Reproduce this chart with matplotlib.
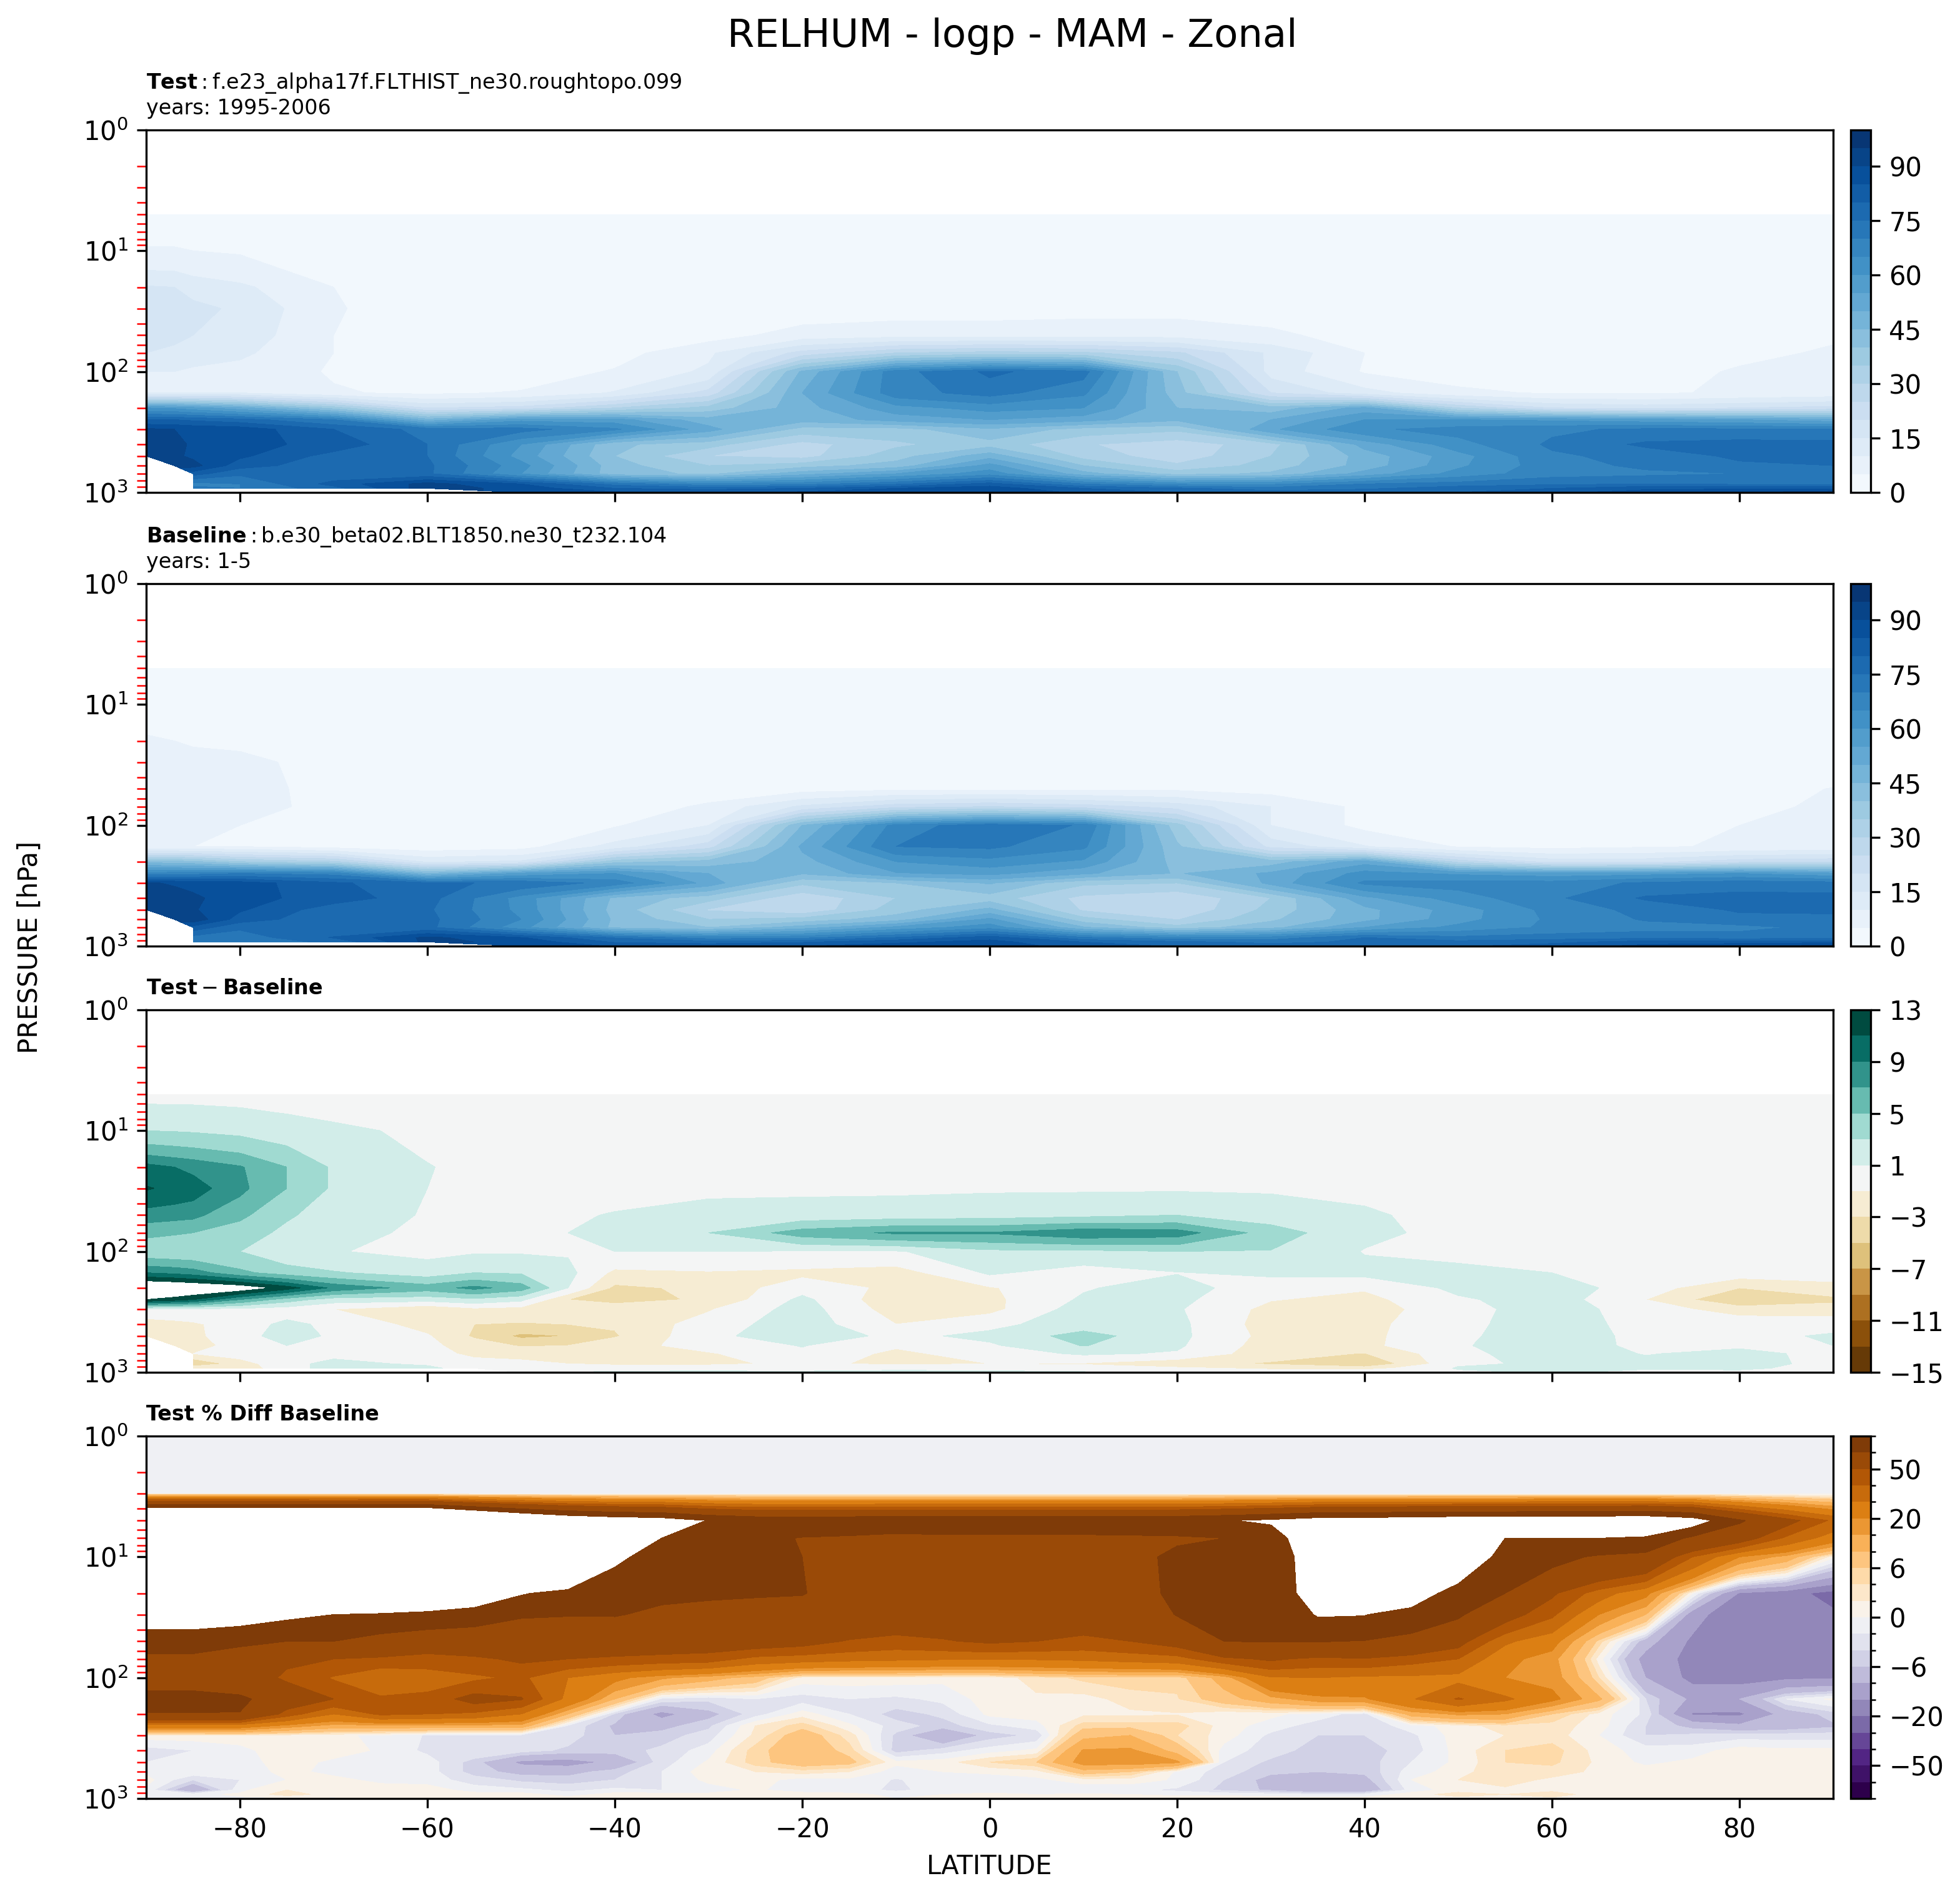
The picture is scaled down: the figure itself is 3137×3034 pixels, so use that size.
import numpy as np
import matplotlib
matplotlib.use("Agg")
import matplotlib.pyplot as plt
from matplotlib.colors import BoundaryNorm, TwoSlopeNorm
from matplotlib.ticker import LogLocator, NullFormatter

nan = np.nan

lat = [-90, -87, -85, -80, -70, -60, -50, -40, -30, -20, -10, 0, 10, 20, 30, 40, 50, 60, 70, 80, 90]
lat_diff = [-90, -87, -85, -80, -75, -70, -60, -55, -50, -45, -40, -30, -20, -10, 0, 10, 20, 30, 40, 50, 60, 70, 80, 90]
lat_pct = list(range(-90, 95, 5))
lev = [5, 7, 10, 20, 30, 50, 70, 100, 150, 200, 250, 300, 400, 500, 600, 700, 850, 925, 1000]
lev_pct = [1, 2, 3] + lev

# RELHUM, test case (rows follow lev)
test_vals = [
    [2.5, 2.5, 2.5, 2, 2, 2, 2, 2, 2, 2, 2, 2, 2, 2, 2, 2, 2, 2, 2, 2, 2],
    [3.5, 3.5, 3.5, 3, 2, 2, 2, 2, 2, 2, 2, 2, 2, 2, 2, 2, 2, 2, 2, 2, 2],
    [5.5, 5.5, 5, 4.5, 3, 2, 2, 2, 2, 2, 2, 2, 2, 2, 2, 2, 2, 2, 2, 2, 2],
    [15.5, 15, 13, 11, 5, 2, 2, 2, 2, 2, 2, 2.5, 2.5, 2.5, 2.5, 2, 2, 2, 2, 2, 2.5],
    [20, 18, 16.5, 14, 5.5, 2, 2, 2, 2, 2.5, 3, 3, 3.5, 3.5, 3, 2.5, 2, 2, 2, 2.5, 3],
    [16, 16, 15, 13, 5, 2, 2, 2, 3, 7, 8, 8, 8, 8, 6, 3, 2, 2, 2, 3, 4.5],
    [15, 14, 12.5, 11, 5, 2, 2, 3, 9, 22, 30, 32, 31, 26, 14, 5, 2, 2, 2.5, 4, 5.5],
    [10, 10, 9, 8, 4.5, 2, 2, 5.5, 11, 46, 68, 76, 72, 40, 13, 4.5, 3, 2.5, 3, 5.5, 8],
    [10, 10, 10, 10, 5.5, 4, 5.5, 10.5, 22, 50, 68, 72, 66, 42, 20, 12, 6, 4.5, 4.5, 5.5, 6.5],
    [60, 59, 57, 52, 38, 20, 22, 30, 37, 48, 58, 62, 60, 45, 42, 52, 30, 20, 18, 20, 22],
    [80, 80, 79, 77, 70, 47, 58, 57, 47, 47, 52, 55, 52, 46, 50, 60, 60, 59, 57, 55, 52],
    [91, 90, 89, 88, 80, 73, 72, 66, 52, 38, 38, 44, 38, 36, 54, 64, 67, 69, 71, 71, 70],
    [91, 91, 89.5, 87, 83, 75, 60, 41, 37, 28, 34, 38, 30.5, 27, 33, 52, 63, 71, 76, 77, 77],
    [91, 91, 89, 86, 78, 75, 58, 40, 30, 28, 38, 48, 33, 27, 35, 47, 58, 69, 72, 76, 77],
    [nan, 93, 92, 82, 77, 76, 62, 42, 35, 38, 42, 57, 40, 31, 37, 47, 59, 68, 71, 74, 75],
    [nan, nan, 82, 76, 76, 76, 60, 42, 39, 48, 55, 63, 47, 38, 41, 52, 62, 68, 69, 70, 72],
    [nan, nan, 68, 70, 82, 92, 85, 73, 66, 68, 74, 82, 70, 64, 64, 70, 72, 74, 75, 74, 74],
    [nan, nan, 72, 70, 78, 93, 88, 80, 78, 80, 85, 88, 80, 76, 72, 74, 78, 80, 84, 84, 84],
    [nan, nan, nan, nan, nan, nan, 88, 86, 85, 86, 89, 89, 84, 80, 78, 79, 80, 84, 87, 90, 93],
]

# RELHUM, baseline case
base_vals = [
    [2, 2, 2, 2, 2, 2, 2, 2, 2, 2, 2, 2, 2, 2, 2, 2, 2, 2, 2, 2, 2],
    [2, 2, 2, 2, 2, 2, 2, 2, 2, 2, 2, 2, 2, 2, 2, 2, 2, 2, 2, 2, 2],
    [2.5, 2.5, 2.5, 2, 2, 2, 2, 2, 2, 2, 2, 2, 2, 2, 2, 2, 2, 2, 2, 2, 2],
    [5.7, 5, 4.5, 3.8, 2.3, 2, 2, 2, 2, 2, 2, 2, 2, 2, 2, 2, 2, 2, 2, 2, 2],
    [8.8, 7.5, 6.5, 6.5, 2.8, 2, 2, 2, 2, 2, 2, 2, 2, 2, 2, 2, 2, 2, 2, 2, 2.5],
    [8, 8, 7.5, 7.5, 2.7, 2, 2, 2, 2, 3, 4, 4, 4, 4, 3, 2, 2, 2, 2, 3, 5.2],
    [9.5, 8.5, 7.5, 7.2, 3.2, 1.5, 1.5, 1.5, 6, 16, 23, 25, 22.5, 18, 10, 3.6, 1.5, 1.5, 2, 3.5, 6],
    [6.5, 6, 5.8, 5, 3.4, 1.5, 1.2, 4.5, 10, 45, 67, 73.5, 69.5, 37, 10, 3.6, 2.4, 2, 2.5, 5, 7.5],
    [5, 5, 5, 5, 3, 2, 3, 12, 23, 51, 70, 71, 66, 41, 18.5, 10.4, 4.6, 3.5, 4.5, 5.5, 6.5],
    [43, 42, 41, 35, 31, 14, 16, 38, 42, 48, 60, 63, 59, 43, 42.5, 53, 28, 18, 18, 23, 24],
    [67, 67.5, 68, 70, 68, 45, 56, 60, 50, 45.5, 54.5, 56.5, 51, 44.5, 51, 62, 59, 57, 58, 60, 56],
    [90.5, 89.5, 88.5, 87.5, 81, 76, 74, 68, 53, 36, 40, 45.6, 36, 35, 51.6, 66, 67, 67, 71, 73, 72],
    [93, 92, 91, 87, 82.5, 77, 63, 44, 37, 26, 35, 37.5, 28.5, 25.5, 35, 53.6, 62.5, 69, 75.7, 76.6, 76.8],
    [92, 91, 90.5, 85.7, 77, 75.8, 63.5, 43, 29.5, 25.8, 37.5, 46.5, 29.2, 25.5, 36.7, 48.5, 57.4, 66.8, 71.6, 75.7, 75.7],
    [nan, 94, 93.5, 82.5, 76.5, 76.5, 65, 44, 35, 37, 42.7, 56.3, 37, 29.7, 39, 48.5, 58, 66, 70.5, 73.3, 74],
    [nan, nan, 83, 76, 75.5, 76.5, 61.7, 43.6, 40, 47.4, 56.5, 63, 45.7, 37, 43.3, 55, 61.5, 66, 68, 68.5, 71.5],
    [nan, nan, 73, 72, 80.5, 91.3, 85.5, 74.5, 67.5, 68.5, 75.5, 83, 71, 66.5, 67, 75, 71.3, 72.7, 73.5, 72.5, 73.4],
    [nan, nan, 73, 72, 76, 91.5, 88.5, 79.5, 77.4, 79.5, 84, 87, 80, 76.6, 73.5, 76, 76.8, 78.5, 82.8, 82.8, 83.4],
    [nan, nan, nan, nan, nan, nan, 87, 84.8, 83.8, 84.8, 87.8, 87.8, 82.8, 79.5, 77.5, 78, 79.4, 82.8, 86.5, 89.3, 92.5],
]

# test - baseline (columns follow lat_diff)
diff_vals = [
    [.5, .5, .5, .5, .5, .5, .5, .5, .5, .5, .5, .5, .5, .5, .5, .5, .5, .5, .5, .5, .5, .5, .5, .5],
    [1.5, 1.4, 1.4, 1.2, .9, .5, .5, .5, .5, .5, .5, .5, .5, .5, .5, .5, .5, .5, .5, .5, .5, .5, .5, .5],
    [3, 2.9, 2.8, 2.5, 2, 1.5, .5, .5, .5, .5, .5, .5, .5, .5, .5, .5, .5, .5, .5, .5, .5, .5, .5, .5],
    [9.8, 9, 8.5, 7.2, 5, 2.7, 1.1, .5, .5, .5, .5, .5, .5, .5, .5, .5, .5, .5, .5, .5, .5, .5, .5, .5],
    [11.2, 10.5, 10, 7.5, 5, 2.7, 1, .5, .5, .5, .5, .7, .7, .7, .8, .8, .8, .8, .7, .5, .5, .5, .5, .5],
    [8, 7.7, 7.5, 5.5, 3.2, 2.3, .8, .5, .7, .8, 1.1, 1.6, 1.8, 2, 2.2, 2.5, 3, 2, 1.2, .5, .5, .5, .5, .5],
    [5.5, 5.2, 5, 3.8, 2.6, 1.8, .5, .5, .7, 1, 1.8, 3, 6, 7.3, 7.2, 8.5, 8, 4, 1.4, .5, .5, .5, .5, .5],
    [3.5, 3.3, 3.2, 3, 1.6, 1.1, .5, .8, .8, .8, 1, 1, .8, .8, 2.5, 2.5, 3, 2.9, .9, .6, .5, .5, .5, .5],
    [9, 8.5, 8, 5.5, 4, 3.2, 2, 3, 2.8, 1.6, -1.5, -1.2, -1.5, -2, 1.3, 0, .9, 1.5, 1.6, 1.4, 1, 0, 0, 0],
    [17, 16.5, 16, 15, 12, 8.5, 6, 7.6, 6, 1, -3.5, -2.5, .2, -1.5, -1.2, .8, 2, -.5, -.8, 1.5, 2, 0, -3, -1.8],
    [13, 12, 11, 7, 4, 2, 1.8, 2.5, 1.5, -3, -3.5, -2.8, 1.5, -2.5, -1.5, 1.3, 1.5, -.9, -1.6, .7, 2, -1, -4.9, -3.5],
    [.5, .5, .5, .5, 0, -1, -2.8, -1.5, -1.8, -2.5, -2.2, -1.2, 1.9, -2, -1.6, 2, 1.2, -1.6, -2, .3, 2, 0, -2, -2],
    [-2, -1.6, -1.3, 0, 1.5, .5, -1.8, -3, -3.2, -3, -2.8, 0, 2.1, -1, .5, 2, 1.5, -2, -1.6, .5, 2, .3, .4, .2],
    [-1.2, -1.4, -1.5, .3, 1.8, .7, -.8, -3.3, -5.5, -5, -3.2, .5, 2.2, .5, 1.5, 3.8, 1.5, -1.7, -1.5, .6, 2.2, .4, .3, 1.3],
    [nan, -1.5, -1.5, -.5, 1, .5, -.5, -2, -3.2, -3, -1.8, -.2, 1.1, -.7, .7, 3.1, 1.3, -2, -1.5, .8, 2.1, .5, .7, 1],
    [nan, nan, -1, 0, .3, .5, -.5, -1.3, -1.7, -1.8, -1.6, -1.2, .6, -1.5, 0, 1.3, .8, -2.3, -3.1, .5, 2, .9, 1.5, .5],
    [nan, nan, -5, -2, .5, 1.5, .7, -.5, -.5, -1, -1.5, -1.5, -.5, -1.5, -1, -1.2, -2.5, -3.2, -4.9, .7, 1.3, 1.5, 1.5, .6],
    [nan, nan, -1, -2, 0, 2, 1.5, 0, -.5, -.5, .5, .6, .5, .8, .7, 0, -.6, -1.5, -2, 1.2, 1.5, 1.2, 1.2, .6],
    [nan, nan, nan, nan, nan, nan, nan, nan, 1, 1, 1.2, 1.2, 1.2, 1.2, 1.2, 1.2, .5, .5, 1, .6, 1.2, .5, .7, .5],
]

# percent difference (columns follow lat_pct, rows follow lev_pct)
pct_vals = [
    [-.5] * 37,
    [-.5] * 37,
    [-.5] * 37,
    [222, 222, 222, 222, 215, 222, 220, 180, 150, 130, 120, 115, 99, 91, 91, 91, 92, 92, 92, 92, 92, 92, 93, 98, 105, 115, 115, 120, 122, 122, 125, 125, 127, 115, 78, 55, 38],
    [300, 300, 300, 300, 300, 300, 300, 280, 250, 200, 140, 100, 90, 80, 74, 72, 68, 70, 70, 70, 70, 71, 72, 75, 82, 133, 200, 200, 200, 100, 100, 100, 97, 70, 58, 38, 25],
    [300, 300, 300, 300, 300, 300, 300, 280, 250, 150, 105, 90, 85, 85, 75, 70, 65, 65, 65, 65, 65, 68, 80, 80, 85, 115, 200, 200, 130, 88, 82, 72, 67, 40, 20, 13, .5],
    [250, 250, 250, 250, 200, 180, 150, 125, 102, 92, 82, 78, 78, 77, 76, 66, 62, 60, 60, 60, 60, 62, 82, 80, 82, 115, 200, 120, 85, 75, 52, 35, 22, 0, -15.5, -18, -22],
    [115, 115, 112, 105, 100, 95, 90, 85, 77, 76, 76, 72, 68, 66, 65, 62, 60, 58, 58, 58, 58, 60, 76, 78, 80, 102, 101, 88, 78, 56, 42, 20, 10, -13, -19, -19, -19],
    [85, 85, 80, 75, 75, 65, 60, 60, 60, 58, 60, 60, 58, 58, 55, 49, 46, 49, 52, 50, 47, 50, 56, 75, 76, 76, 74, 68, 55, 32, 23, 5, -8, -16, -18, -18, -18],
    [70, 70, 62, 52, 50, 48, 45, 48, 52, 50, 48, 46, 45, 37, 35, 33, 32, 31, 31, 31, 32, 34, 36, 47, 52, 47, 49, 44, 40, 22, 17, 1, -12, -16.5, -17, -17.5, -17],
    [62, 62, 58, 48, 39, 30, 35, 38, 42, 30, 22, 16, 12, 8, 1, 1, 1, .5, .5, 3, 4.5, 5, 4.5, 12, 29, 30, 28, 28, 27, 20, 18, 4, -10, -16.5, -17, -16, -15.5],
    [85, 85, 80, 60, 50, 42, 43, 55, 51, 27, 10, -2.5, -3.5, -2, -3, -2, -2.5, -1.5, 1, 1.5, 1, 3, 3.8, 8, 13, 18, 19, 29, 41, 32, 22, 11, -4, -11, -10, -2, .5],
    [74, 74, 74, 45, 30, 42, 40, 38, 30, 10, -4.5, -11.5, -7, -3, 1, -2, -5, -3.5, .5, 1, 1.5, 1.5, 1.8, .5, .5, -1, -3, 12, 16, 15, 6, 1, -2.5, -15.5, -16, -8, -5],
    [25, 25, 25, 18, 13, 13, 13, 13, 13, -2.5, -6.5, -7, -4.5, 2, 5, .5, -3, -5, -2.5, -1, 5, 5, 5, 1, -1, -3, -3.5, -1, 1, 3, 3, 1, -4, -7, -9, -8, -6.5],
    [1, 1, 1.5, 1, .5, -.5, -2.2, -2.5, -3, -3, -6, -5, -3, 2.5, 8, 3, -4.5, -9.5, -5, -3.5, 8.5, 10, 4, 1, -2.5, -4, -4, -2.5, 1, 2, 3, 0, -4, -3.5, -3, -3, -3],
    [-3, -2, -1, 2, 1, -.3, -2.5, -2, -3, -4.5, -5, -3.5, -1, 5, 8.5, 5, -5, -3, -1, .5, 15.5, 16, 8, -1, -3, -5, -5, -3, .8, 4, 5, 1, -1, -1, 1, .5, .7],
    [-2, -1, -1, 1, -.5, -.5, -1, -5, -11, -12, -9, -3, .3, 5, 8, 7, .5, 1, 4, 6, 17.5, 18, 16, -2, -4.5, -5.5, -5, -2, .5, 4, 4.5, 1.5, -.5, .5, 1, 1, 1],
    [-.5, -.5, -1, .5, -.5, -.5, -1, -5, -7, -7, -5, -2, 1.2, 2, 3, 2, -1, 0, .3, 1, 8, 6, -.5, -3, -5.5, -6, -5.5, -1, 1, 4, 3, 1.5, 1, 1, 1, 1, 1],
    [.8, -4, -2, 0, .5, -.5, -1, -3, -4.5, -5, -4, -2, .5, 1, -1, -.5, -2.2, -.8, -.8, -.5, 1, 1, -.3, -4, -7, -7, -7, 0, 2, 3, 1.5, 1, 1, 1, 1, 1, 1],
    [-.5, -10, -.5, 2, 2, 1, 1.2, -1, -1.5, -2.5, -1.5, -2, -1, .3, -1, -1, -2.5, -1, -1, -1, -1.5, -1.5, -2.5, -4.5, -6.5, -10, -9, -1, 1, 1.5, 1.5, 1, 1, 1, 1, 1, 1],
    [-.5, -.5, .3, 3, 1, 1, .5, 1, 1, -1, 1, 1, .5, 1, 1, .5, -.5, 0, .5, 0, .3, 0, -.5, -.5, -1, -2, -1.5, 1, 3, 2, 3, 1, 1, 1, 1, 1, 1],
    [-.5, -.5, -.3, -.5, -.5, .5, .5, 1, 1, 1, 1, 1, 1, 1, 1.5, 1, 0, .5, 1.5, 1, 1, 1, 1, 1, 1.2, 1, 1, 1, 1, 2, 1.5, 1, 1, 1, 1, 1, 1],
]

rh_levels = list(range(0, 105, 5))
rh_ticks = list(range(0, 105, 15))
diff_levels = list(range(-15, 15, 2))
diff_ticks = list(range(-15, 15, 4))
pct_levels = [-100, -75, -50, -40, -30, -20, -15, -10, -6, -4, -2, 0, 2, 4, 6, 10, 15, 20, 30, 40, 50, 75, 100]
pct_ticks = [-50, -20, -6, 0, 6, 20, 50]

W, H = 3137, 3034
fig = plt.figure(figsize=(W / 300, H / 300), dpi=300)


def box(x0, y0, x1, y1):
    # pixel box (origin top left) to figure fraction
    return [x0 / W, 1 - y1 / H, (x1 - x0) / W, (y1 - y0) / H]


def draw_panel(top, bottom, xs, plev, vals, levels, ticks, **style):
    ax = fig.add_axes(box(234, top, 2934, bottom))
    cf = ax.contourf(xs, plev, np.array(vals, dtype=float), levels=levels, **style)
    ax.set_yscale("log")
    ax.set_ylim(1000, 1)
    ax.set_xlim(-90, 90)
    ax.set_xticks(range(-80, 81, 20))
    ax.yaxis.set_minor_locator(LogLocator(base=10, subs=range(2, 10), numticks=12))
    ax.yaxis.set_minor_formatter(NullFormatter())
    ax.tick_params(axis="y", which="minor", color="red", length=3.5)
    ax.tick_params(labelsize=10)
    cax = fig.add_axes(box(2962, top, 2994, bottom))
    cb = fig.colorbar(cf, cax=cax, ticks=ticks)
    cb.ax.tick_params(labelsize=10)
    cb.ax.minorticks_off()
    return ax, cb


# colour of each difference band, centred on zero but with evenly spaced bands
diff_norm = TwoSlopeNorm(vcenter=0, vmin=-15, vmax=13)
brbg = plt.get_cmap("BrBG")
diff_colors = [brbg(float(diff_norm(v + 1))) for v in diff_levels[:-1]]

ax1, cb1 = draw_panel(208, 788, lat, lev, test_vals, rh_levels, rh_ticks, cmap="Blues")
ax2, cb2 = draw_panel(934, 1514, lat, lev, base_vals, rh_levels, rh_ticks, cmap="Blues")
ax3, cb3 = draw_panel(1616, 2196, lat_diff, lev, diff_vals, diff_levels, diff_ticks, colors=diff_colors)
ax4, cb4 = draw_panel(2298, 2878, lat_pct, lev_pct, pct_vals, pct_levels, pct_ticks, cmap="PuOr_r",
                      norm=BoundaryNorm(pct_levels, ncolors=256))
cb4.set_ticks(pct_levels, minor=True)

for ax in [ax1, ax2, ax3]:
    ax.tick_params(axis="x", labelbottom=False)

ax1.set_title("$\\mathbf{Test}:$f.e23_alpha17f.FLTHIST_ne30.roughtopo.099\nyears: 1995-2006",
              loc="left", fontsize=8, pad=6)
ax2.set_title("$\\mathbf{Baseline}:$b.e30_beta02.BLT1850.ne30_t232.104\nyears: 1-5",
              loc="left", fontsize=8, pad=6)
ax3.set_title("$\\mathbf{Test} - \\mathbf{Baseline}$", loc="left", fontsize=8, pad=6)
ax4.set_title("Test % Diff Baseline", loc="left", fontsize=8, fontweight="bold", pad=6)

ax4.set_xlabel("LATITUDE", fontsize=10)
fig.text(48 / W, 1 - 1516 / H, "PRESSURE [hPa]", rotation=90, ha="center", va="center", fontsize=10)
fig.text(1620 / W, 1 - 58 / H, "RELHUM - logp - MAM - Zonal", ha="center", va="center", fontsize=15)

fig.savefig("out.png", dpi=300)
